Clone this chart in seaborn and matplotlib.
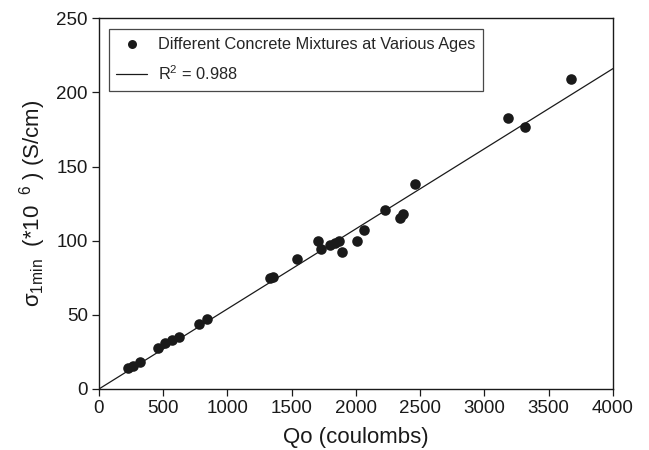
import numpy as np
import pandas as pd
import matplotlib
matplotlib.use("Agg")
import matplotlib.pyplot as plt
import seaborn as sns

# Data
qo = [228, 262, 319, 457, 514, 566, 625, 781, 843, 1331, 1352,
      1543, 1702, 1725, 1798, 1837, 1870, 1889, 2005, 2062, 2226,
      2342, 2368, 2459, 3185, 3313, 3673]
sigma = [13.9, 15.5, 18.2, 27.8, 30.8, 33.0, 35.2, 43.8, 47.0, 74.6, 75.7,
         87.8, 99.9, 94.1, 97.0, 98.2, 99.9, 92.1, 99.7, 106.9, 120.8,
         115.0, 117.7, 138.3, 182.4, 176.8, 208.9]
fit_x = [0, 4000]
fit_y = [0, 216]
series_label = "Different Concrete Mixtures at Various Ages"
fit_label = r"R$^{2}$ = 0.988"
x_ticks = [0, 500, 1000, 1500, 2000, 2500, 3000, 3500, 4000]
y_ticks = [0, 50, 100, 150, 200, 250]

sns.set_theme(style="ticks")
plt.rcParams["font.family"] = ["Liberation Sans", "DejaVu Sans"]
plt.rcParams["mathtext.fontset"] = "custom"
plt.rcParams["mathtext.rm"] = "Liberation Sans"
plt.rcParams["mathtext.it"] = "Liberation Sans"
plt.rcParams["mathtext.default"] = "regular"

fig = plt.figure(figsize=(6.49, 4.5), dpi=100)
ax = fig.add_axes([0.1525, 0.1356, 0.792, 0.824])

df = pd.DataFrame({"Qo": qo, "sigma": sigma})
fit = pd.DataFrame({"x": fit_x, "y": fit_y})

sns.scatterplot(data=df, x="Qo", y="sigma", ax=ax, s=58, color="#1a1a1a",
                edgecolor="#1a1a1a", linewidth=0, label=series_label, zorder=3)
sns.lineplot(data=fit, x="x", y="y", ax=ax, color="#1a1a1a", linewidth=0.9,
             label=fit_label, zorder=2)

ax.set_xlim(0, 4000)
ax.set_ylim(0, 250)
ax.set_xticks(x_ticks)
ax.set_yticks(y_ticks)
ax.tick_params(axis="both", labelsize=13.5, direction="out", length=5,
               width=0.9, color="#1a1a1a", labelcolor="#1a1a1a", pad=3)
for sp in ax.spines.values():
    sp.set_visible(True)
    sp.set_color("#1a1a1a")
    sp.set_linewidth(1.0)

ax.set_xlabel("Qo (coulombs)", fontsize=16, color="#1a1a1a", labelpad=7)
ax.set_ylabel(r"$\sigma_{1min}$  (*10 $^{\ 6}$ ) (S/cm)", fontsize=16,
              color="#1a1a1a", labelpad=6)

leg = ax.legend(loc="upper left", bbox_to_anchor=(0.0195, 0.970), fontsize=11.8,
                frameon=True, fancybox=False, edgecolor="#1a1a1a",
                handlelength=1.85, borderpad=0.45, labelspacing=0.78,
                handletextpad=0.7, markerscale=0.85, borderaxespad=0)
leg.get_frame().set_linewidth(0.9)

fig.savefig("out.png", dpi=100)
